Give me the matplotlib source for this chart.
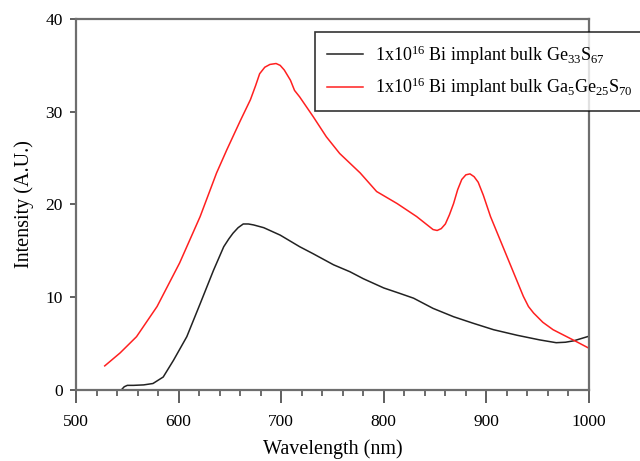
import matplotlib
matplotlib.use("Agg")
import matplotlib.pyplot as plt
from matplotlib.ticker import MultipleLocator

plt.rcParams['font.family'] = ['Liberation Serif', 'DejaVu Serif']
plt.rcParams['mathtext.fontset'] = 'custom'
plt.rcParams['mathtext.rm'] = 'Liberation Serif'
plt.rcParams['mathtext.it'] = 'Liberation Serif:italic'

# Ge33S67 sample (black)
ge_wl = [544.5, 547, 550, 556, 566, 575, 585, 595, 608, 621, 634, 644, 649, 653, 658,
         663, 668, 673, 683, 699, 718, 731, 751, 767, 780, 800, 816, 829, 848, 868,
         887, 907, 930, 952, 968, 977, 985, 1000]
ge_int = [0.05, 0.35, 0.5, 0.5, 0.55, 0.7, 1.4, 3.2, 5.75, 9.3, 12.9, 15.45, 16.3, 16.9, 17.5,
          17.9, 17.9, 17.8, 17.5, 16.7, 15.45, 14.7, 13.5, 12.75, 12.0, 11.0, 10.4, 9.9, 8.8, 7.9,
          7.2, 6.5, 5.9, 5.4, 5.1, 5.15, 5.3, 5.8]

# Ga5Ge25S70 sample (red)
ga_wl = [528, 543, 559, 579, 601, 621, 637, 647, 660, 670, 675, 679, 684, 689, 695, 699,
         703, 709, 713, 718, 731, 744, 757, 777, 793, 813, 832, 848, 852, 856, 860, 864,
         868, 872, 876, 880, 884, 888, 892, 897, 904, 920, 936, 941, 946, 955, 965, 988, 1000]
ga_int = [2.6, 4.0, 5.75, 9.0, 13.7, 18.7, 23.4, 25.9, 29.0, 31.3, 32.8, 34.1, 34.8, 35.1, 35.2, 35.0,
          34.5, 33.4, 32.3, 31.6, 29.5, 27.3, 25.5, 23.4, 21.4, 20.1, 18.7, 17.3, 17.2, 17.4, 17.9, 18.9,
          20.1, 21.6, 22.7, 23.2, 23.3, 23.0, 22.4, 21.0, 18.7, 14.4, 10.1, 9.0, 8.3, 7.3, 6.5, 5.2, 4.5]

labels = [r'1x10$^{16}$ Bi implant bulk Ge$_{33}$S$_{67}$',
          r'1x10$^{16}$ Bi implant bulk Ga$_{5}$Ge$_{25}$S$_{70}$']

fig = plt.figure(figsize=(6.4, 4.61), dpi=100)
ax = fig.add_axes([76 / 640, 71 / 461, 513 / 640, 371 / 461])

ax.plot(ge_wl, ge_int, color='#222222', lw=1.1, label=labels[0])
ax.plot(ga_wl, ga_int, color='#ff2020', lw=1.1, label=labels[1])

ax.set_xlim(500, 1000)
ax.set_ylim(0, 40)
ax.xaxis.set_major_locator(MultipleLocator(100))
ax.xaxis.set_minor_locator(MultipleLocator(20))
ax.yaxis.set_major_locator(MultipleLocator(10))

for s in ax.spines.values():
    s.set_color('#6e6e6e')
    s.set_linewidth(1.6)
ax.tick_params(axis='both', which='major', direction='out', length=4.5, width=1.2,
               color='#444444', labelsize=12.5, pad=5)
ax.tick_params(axis='x', which='minor', direction='out', length=4.3, width=1.1, color='#444444')
ax.tick_params(axis='x', which='major', pad=8, length=9)

ax.set_xlabel('Wavelength (nm)', fontsize=14.5, labelpad=7)
ax.set_ylabel('Intensity (A.U.)', fontsize=14.5, labelpad=8)

leg = ax.legend(loc='upper left', bbox_to_anchor=(0.466, 0.966), fontsize=13,
                frameon=True, fancybox=False, edgecolor='black', handlelength=2.0,
                borderpad=0.65, labelspacing=0.5, handletextpad=0.65, borderaxespad=0)
leg.get_frame().set_linewidth(1.2)
leg.set_in_layout(False)

fig.savefig('out.png', dpi=100, facecolor='white')
